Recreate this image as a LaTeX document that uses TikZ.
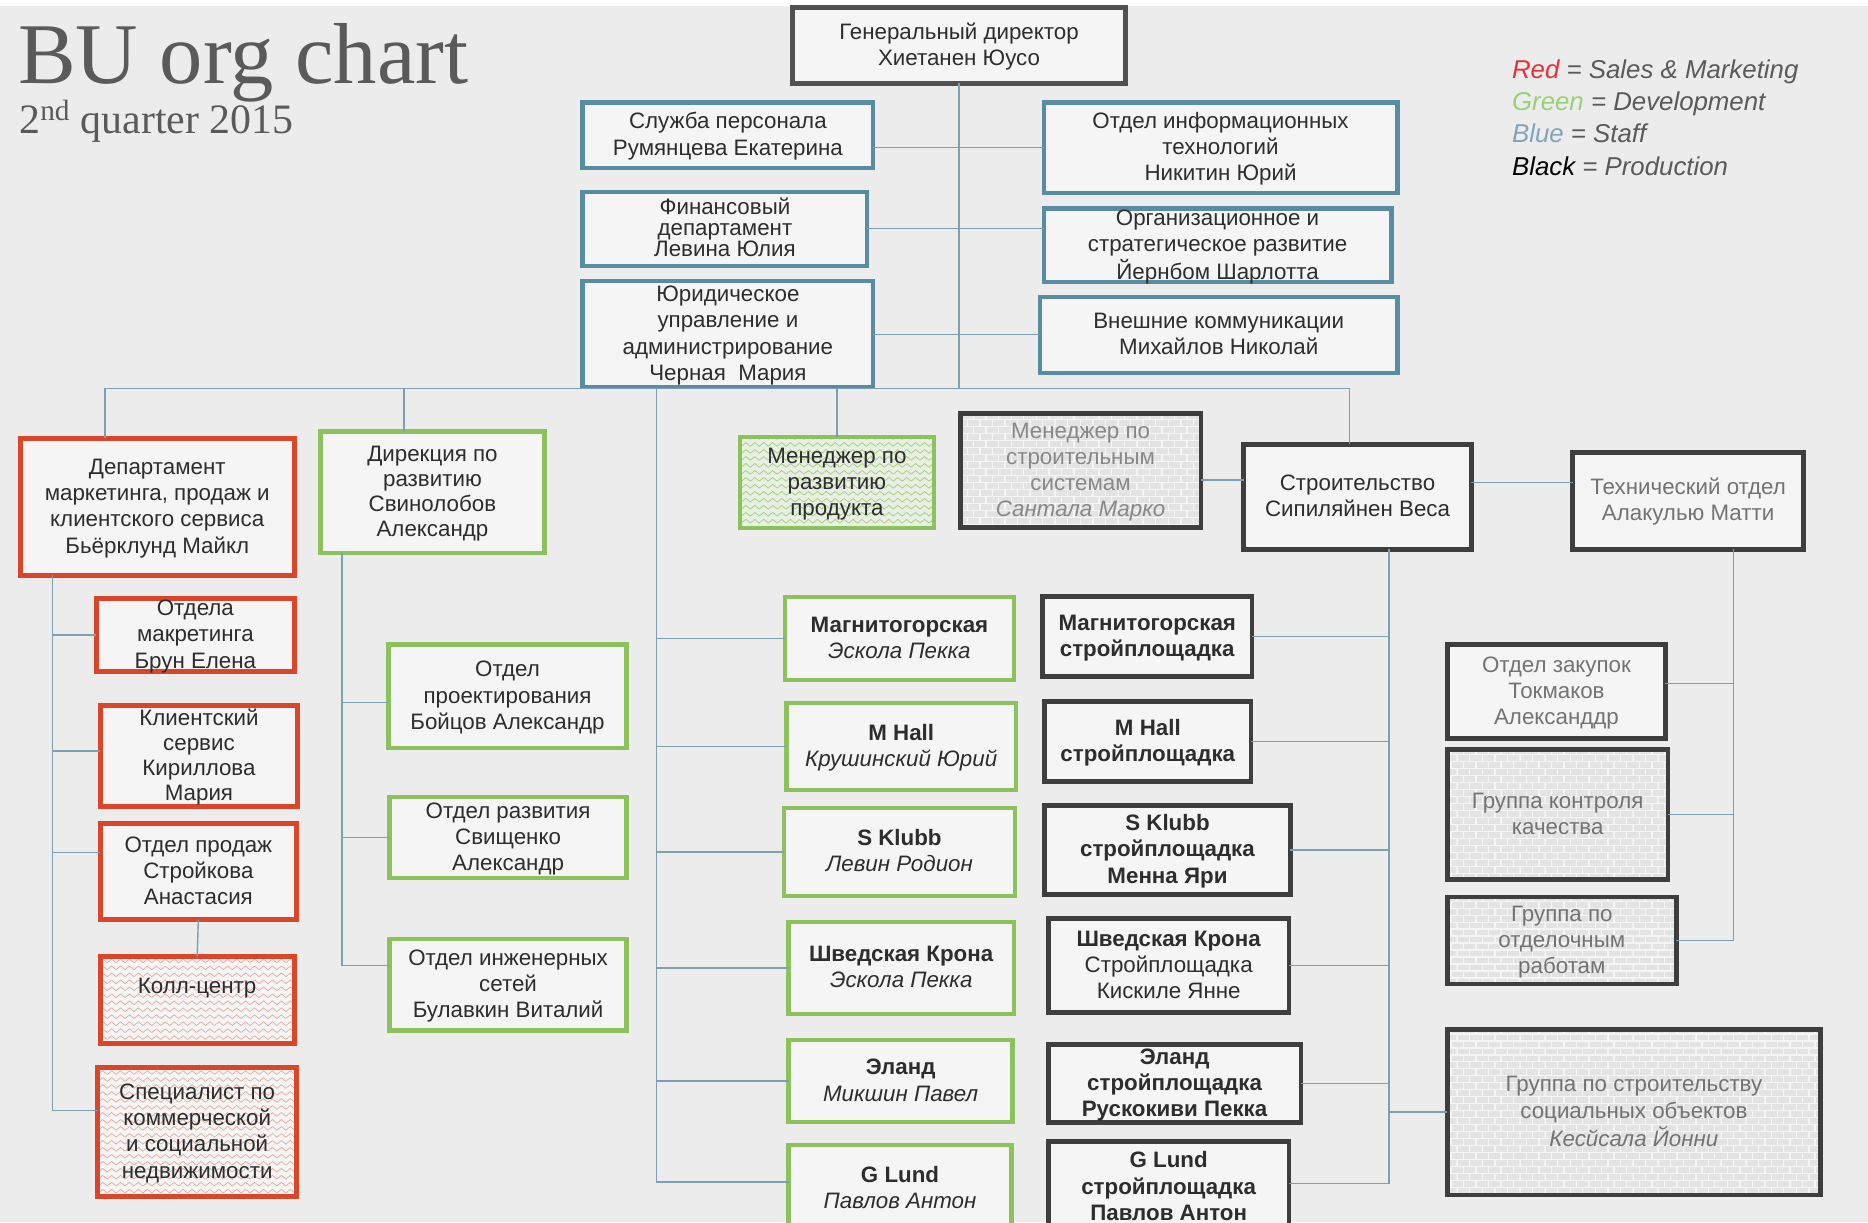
\documentclass[tikz,border=0pt]{standalone}
\usepackage{fontspec}
\setmainfont{Liberation Sans}
\newfontfamily\titlefont{Liberation Serif}
\usetikzlibrary{fit, patterns, positioning}

\definecolor{bgc}{RGB}{236,236,236}
\definecolor{boxc}{RGB}{245,245,245}
\definecolor{txtc}{RGB}{45,45,45}
\definecolor{palec}{RGB}{115,115,115}
\definecolor{staffc}{RGB}{88,140,162}
\definecolor{salesc}{RGB}{218,70,42}
\definecolor{devc}{RGB}{140,194,92}
\definecolor{prodc}{RGB}{62,62,62}
\definecolor{linkc}{RGB}{122,160,178}
\definecolor{titlec}{RGB}{90,90,90}
\definecolor{legred}{RGB}{222,52,62}
\definecolor{leggreen}{RGB}{150,210,120}
\definecolor{legblue}{RGB}{128,165,186}

% zigzag and brick fills
\pgfdeclarepatternformonly{zigzagfill}{\pgfqpoint{-1pt}{-1pt}}{\pgfqpoint{7.5pt}{6pt}}{\pgfqpoint{6.4pt}{5pt}}{
  \pgfsetlinewidth{0.5pt}
  \pgfpathmoveto{\pgfqpoint{0pt}{1pt}}
  \pgfpathlineto{\pgfqpoint{3.2pt}{3.6pt}}
  \pgfpathlineto{\pgfqpoint{6.4pt}{1pt}}
  \pgfusepath{stroke}
}
\pgfdeclarepatternformonly{brickfill}{\pgfqpoint{-0.5pt}{-0.5pt}}{\pgfqpoint{10pt}{11pt}}{\pgfqpoint{9pt}{10pt}}{
  \pgfsetlinewidth{1pt}
  \pgfpathmoveto{\pgfqpoint{0pt}{0pt}}\pgfpathlineto{\pgfqpoint{9pt}{0pt}}
  \pgfpathmoveto{\pgfqpoint{0pt}{5pt}}\pgfpathlineto{\pgfqpoint{9pt}{5pt}}
  \pgfpathmoveto{\pgfqpoint{0pt}{0pt}}\pgfpathlineto{\pgfqpoint{0pt}{5pt}}
  \pgfpathmoveto{\pgfqpoint{4.5pt}{5pt}}\pgfpathlineto{\pgfqpoint{4.5pt}{10pt}}
  \pgfusepath{stroke}
}

% box text: centred lines that may run over the border
\newcommand\boxtext[1]{\raisebox{-5.5pt}[0pt][0pt]{\begin{tabular}{@{}c@{}}#1\end{tabular}}}

\begin{document}
\begin{tikzpicture}[x=0.03cm, y=-0.03cm,
    box/.style={rectangle, inner sep=0pt, outer sep=0pt, fill=boxc, text=txtc, font=\fontsize{16}{18.8}\selectfont},
    staff/.style={box, draw=staffc, line width=3pt},
    sales/.style={box, draw=salesc, line width=3.6pt},
    dev/.style={box, draw=devc, line width=3.2pt},
    prod/.style={box, draw=prodc, line width=3.4pt},
    pale/.style={text=palec},
    zigred/.style={fill=none, preaction={fill=boxc}, preaction={pattern=zigzagfill, pattern color=salesc!40!bgc}},
    ziggreen/.style={fill=none, preaction={fill=devc!12!boxc}, preaction={pattern=zigzagfill, pattern color=devc!80}},
    brick/.style={fill=none, preaction={fill=black!11}, preaction={pattern=brickfill, pattern color=boxc}},
    link/.style={draw=linkc, line width=1pt},
    legend/.style={anchor=base west, inner sep=0pt, text=titlec, font=\fontsize{18.5}{23}\selectfont\itshape}]

\useasboundingbox (0,0) rectangle (1568,1026);
\clip (0,0) rectangle (1568,1026);
\fill[bgc] (0,5) rectangle (1568,1026);
\fill[white] (0,0) rectangle (1568,5);

% title and legend
\node[anchor=base west, inner sep=0pt, text=titlec, font=\titlefont\fontsize{62}{62}\selectfont] (title) at (15,70) {BU org chart};
\node[anchor=base west, inner sep=0pt, text=titlec, font=\titlefont\fontsize{30}{30}\selectfont] (subtitle) at (16,112) {2\textsuperscript{nd} quarter 2015};
\node[legend] (lred) at (1269,65.6) {\textcolor{legred}{Red} = Sales \& Marketing};
\node[legend] (lgreen) at (1269,92.8) {\textcolor{leggreen}{Green} = Development};
\node[legend] (lblue) at (1269,120) {\textcolor{legblue}{Blue} = Staff};
\node[legend] (lblack) at (1269,147.2) {\textcolor{black}{Black} = Production};

% top management and staff
\node[prod, draw=prodc!90, fit={(665,6) (945,70)}] (ceo) {\boxtext{Генеральный директор\\Хиетанен Юусо}};
\node[staff, fit={(489,86) (733,141)}] (hr) {\boxtext{Служба персонала\\Румянцева Екатерина}};
\node[staff, fit={(489,161) (728,223)}] (fin) {\boxtext{Финансовый\\[-4pt]департамент\\[-4pt]Левина Юлия}};
\node[staff, fit={(489,236) (733,325)}] (legal) {\boxtext{Юридическое\\управление и\\администрирование\\Черная\ \ Мария}};
\node[staff, fit={(876,86) (1173,162)}] (it) {\boxtext{Отдел информационных\\технологий\\Никитин Юрий}};
\node[staff, fit={(876,175) (1168,237)}] (org) {\boxtext{Организационное и\\стратегическое развитие\\Йернбом Шарлотта}};
\node[staff, fit={(873,249) (1173,313)}] (ext) {\boxtext{Внешние коммуникации\\Михайлов Николай}};

% sales and marketing
\node[sales, fit={(17,368) (247,483)}] (mkt) {\boxtext{Департамент\\маркетинга, продаж и\\клиентского сервиса\\Бьёрклунд Майкл}};
\node[sales, fit={(81,502) (247,564)}] (mktdept) {\boxtext{Отдела\\макретинга\\Брун Елена}};
\node[sales, fit={(84,592) (250,677)}] (clients) {\boxtext{Клиентский\\[-0.9pt]сервис\\[-0.9pt]Кириллова\\[-0.9pt]Мария}};
\node[sales, fit={(84,691) (249,772)}] (salesdept) {\boxtext{Отдел продаж\\Стройкова\\Анастасия}};
\node[sales, zigred, fit={(84,803) (247,876)}] (callc) {\boxtext{Колл-центр\\\mbox{}}};
\node[sales, zigred, fit={(82,896) (249,1004)}] (spec) {\boxtext{Специалист по\\коммерческой\\и социальной\\недвижимости}};

% development
\node[dev, fit={(269,362) (457,464)}] (devdir) {\boxtext{Дирекция по\\[-0.9pt]развитию\\[-0.9pt]Свинолобов\\[-0.9pt]Александр}};
\node[dev, fit={(326,541) (526,628)}] (design) {\boxtext{Отдел\\проектирования\\Бойцов Александр}};
\node[dev, fit={(327,669) (526,737)}] (devdept) {\boxtext{Отдел развития\\Свищенко\\Александр}};
\node[dev, fit={(327,788) (526,865)}] (engnet) {\boxtext{Отдел инженерных\\сетей\\Булавкин Виталий}};
\node[dev, ziggreen, fit={(621,367) (784,443)}] (prodman) {\boxtext{Менеджер по\\развитию\\продукта}};

% sites
\node[dev, fit={(659,501) (851,571)}] (sm) {\boxtext{\textbf{Магнитогорская}\\\textit{Эскола Пекка}}};
\node[dev, fit={(660,590) (853,663)}] (sh) {\boxtext{\textbf{M Hall}\\\textit{Крушинский Юрий}}};
\node[dev, fit={(658,678) (852,752)}] (sk) {\boxtext{\textbf{S Klubb}\\\textit{Левин Родион}}};
\node[dev, fit={(662,774) (851,851)}] (ss) {\boxtext{\textbf{Шведская Крона}\\\textit{Эскола Пекка}}};
\node[dev, fit={(662,873) (850,942)}] (se) {\boxtext{\textbf{Эланд}\\\textit{Микшин Павел}}};
\node[dev, fit={(662,961) (849,1035)}] (sg) {\boxtext{\textbf{G Lund}\\\textit{Павлов Антон}}};

% production
\node[prod, brick, text=palec!85, fit={(806,347) (1008,443)}] (bsys) {\boxtext{Менеджер по\\строительным\\системам\\\textit{Сантала Марко}}};
\node[prod, fit={(1044,373) (1235,461)}] (constr) {\boxtext{Строительство\\Сипиляйнен Веса}};
\node[prod, pale, fit={(1320,380) (1514,461)}] (tech) {\boxtext{Технический отдел\\Алакулью Матти}};
\node[prod, fit={(875,501) (1051,568)}] (bm) {\boxtext{\textbf{Магнитогорская}\\\textbf{стройплощадка}}};
\node[prod, fit={(877,589) (1050,656)}] (bh) {\boxtext{\textbf{M Hall}\\\textbf{стройплощадка}}};
\node[prod, fit={(877,676) (1083,751)}] (bk) {\boxtext{\textbf{S Klubb}\\\textbf{стройплощадка}\\\textbf{Менна Яри}}};
\node[prod, fit={(880,771) (1082,850)}] (bs) {\boxtext{\textbf{Шведская Крона}\\Стройплощадка\\Кискиле Янне}};
\node[prod, fit={(880,877) (1092,942)}] (be) {\boxtext{\textbf{Эланд}\\\textbf{стройплощадка}\\\textbf{Рускокиви Пекка}}};
\node[prod, fit={(880,958) (1082,1035)}] (bg) {\boxtext{\textbf{G Lund}\\\textbf{стройплощадка}\\\textbf{Павлов Антон}}};
\node[prod, pale, fit={(1215,541) (1398,620)}] (purch) {\boxtext{Отдел закупок\\Токмаков\\Александдр}};
\node[prod, pale, brick, fit={(1215,629) (1400,738)}] (qc) {\boxtext{Группа контроля\\качества}};
\node[prod, pale, brick, fit={(1215,753) (1407,826)}] (finish) {\boxtext{Группа по\\отделочным\\работам}};
\node[prod, pale, brick, fit={(1215,864) (1528,1003)}] (social) {\boxtext{Группа по строительству\\социальных объектов\\\textit{Кесйсала Йонни}}};

% junctions
\coordinate (busL) at (88,326);
\coordinate (busR) at (1133,326);
\coordinate (busD) at (339,326);
\coordinate (spine) at (551,326);
\coordinate (redsp) at (44,483);
\coordinate (greensp) at (287,464);
\coordinate (csp) at (1166,461);
\coordinate (tsp) at (1455,461);
\coordinate (bsysR) at ([yshift=-.24cm]bsys.east);
\coordinate (constrR) at ([yshift=.36cm]constr.east);

% connectors
\draw[link] (ceo.south) -- (ceo.south |- busL);
\draw[link] (it.west) -- (it.west -| hr.east);
\draw[link] (fin.east) -- (fin.east -| org.west);
\draw[link] (ext.west) -- (ext.west -| legal.east);
\draw[link] (busL) -- (busR);
\draw[link] (busL) -- (busL |- mkt.north);
\draw[link] (busD) -- (busD |- devdir.north);
\draw[link] (prodman.north) -- (prodman.north |- busL);
\draw[link] (busR) -- (busR |- constr.north);
\draw[link] (redsp) |- ([yshift=.54cm]spec.west);
\draw[link] (mktdept.west) -- (mktdept.west -| redsp);
\draw[link] ([yshift=.12cm]clients.west) -- ([yshift=.12cm]clients.west -| redsp);
\draw[link] ([yshift=.48cm]salesdept.west) -- ([yshift=.48cm]salesdept.west -| redsp);
\draw[link] (salesdept.south) -- (callc.north);
\draw[link] (greensp) |- ([yshift=.48cm]engnet.west);
\draw[link] ([yshift=-.15cm]design.west) -- ([yshift=-.15cm]design.west -| greensp);
\draw[link] (devdept.west) -- (devdept.west -| greensp);
\draw[link] (spine) |- ([yshift=.18cm]sg.west);
\foreach \s in {sm, sh, sk, ss, se}
  \draw[link] (\s.west) -- (\s.west -| spine);
\draw[link] (bsysR) -- (bsysR -| constr.west);
\draw[link] (constrR) -- (constrR -| tech.west);
\draw[link] (csp) |- ([yshift=.1cm]bg.east);
\foreach \s in {bm, bh, bk, bs, be}
  \draw[link] (\s.east) -- (\s.east -| csp);
\draw[link] (social.west) -- (social.west -| csp);
\draw[link] (tsp) |- (finish.east);
\draw[link] ([yshift=.2cm]purch.east) -- ([yshift=.2cm]purch.east -| tsp);
\draw[link] (qc.east) -- (qc.east -| tsp);
\end{tikzpicture}
\end{document}
